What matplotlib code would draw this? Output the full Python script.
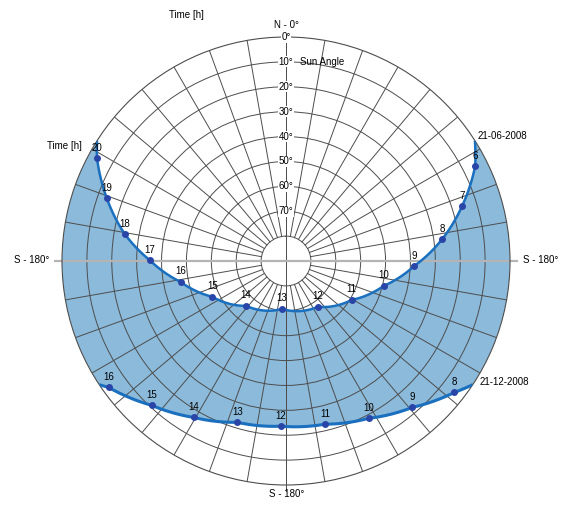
import numpy as np
import matplotlib.pyplot as plt
from matplotlib.path import Path
from matplotlib.patches import PathPatch

plt.rcParams['font.family'] = ['Liberation Sans', 'DejaVu Sans']

# ---- data (azimuth from north, clockwise; altitude in deg) ----
summer_label = '21-06-2008'
summer_hours = [6, 7, 8, 9, 10, 11, 12, 13, 14, 15, 16, 17, 18, 19, 20]
summer_az = [63.4, 72.7, 82.0, 92.2, 104.3, 120.6, 145.2, 184.8, 221.6, 244.1, 258.8, 270.4, 279.5, 289.3, 298.5]
summer_alt = [5.0, 15.9, 26.6, 38.4, 49.5, 59.3, 67.6, 70.7, 65.9, 57.1, 46.8, 35.2, 24.3, 13.7, 3.6]
summer_rise_set_az = [57.5, 302.5]

winter_label = '21-12-2008'
winter_hours = [8, 9, 10, 11, 12, 13, 14, 15, 16]
winter_az = [128.0, 139.2, 152.3, 166.6, 181.7, 196.8, 210.6, 222.9, 234.5]
winter_alt = [4.2, 12.3, 18.6, 22.6, 23.6, 22.3, 17.0, 10.8, 2.5]
winter_rise_set_az = [123.5, 236.5]

ring_alts = [0, 10, 20, 30, 40, 50, 60, 70]
inner_ring_alt = 80
spoke_step = 10

FILL = '#8bbadb'
LINE = '#1a6fbe'
MARK = '#2a45a8'
GRID = '#4d4d4d'

W, H = 566, 505


def path_of(az, alt):
    # azimuth/altitude -> polar (theta, zenith distance)
    return np.column_stack([np.radians(az), 90 - np.asarray(alt, float)])


fig = plt.figure(figsize=(W / 100, H / 100), dpi=100)
ax = fig.add_axes([62 / W, 20 / H, 448 / W, 448 / H], projection='polar')
ax.set_theta_zero_location('N')
ax.set_theta_direction(-1)
ax.set_ylim(0, 90)
ax.set_xticks([])
ax.set_yticks([90 - a for a in ring_alts[1:] + [inner_ring_alt]])
ax.set_yticklabels([])
ax.grid(True, color=GRID, lw=0.7)
ax.spines['polar'].set_color(GRID)
ax.spines['polar'].set_linewidth(0.8)

# radial spokes between the 80 deg ring and the horizon
for a in range(0, 360, spoke_step):
    if a in (90, 270):
        continue
    ax.plot([np.radians(a)] * 2, [90 - inner_ring_alt, 90], color=GRID, lw=0.7, zorder=1.6)
ax.plot([0, np.pi], [90, 92.5], color=GRID, lw=0.7, zorder=1.6, clip_on=False)
ax.plot([np.pi / 2, 3 * np.pi / 2], [92.8, 92.8], color='#b4b4b4', lw=1.6,
        zorder=1.7, clip_on=False)

# curves including sunrise / sunset on the horizon
s_line = path_of([summer_rise_set_az[0]] + summer_az + [summer_rise_set_az[1]],
                 [0] + summer_alt + [0])
w_line = path_of([winter_rise_set_az[0]] + winter_az + [winter_rise_set_az[1]],
                 [0] + winter_alt + [0])

# shaded band between the two paths
band = np.vstack([s_line, w_line[::-1], s_line[:1]])
band_path = Path(band).interpolated(30)
ax.add_patch(PathPatch(band_path, transform=ax.transData, fc=FILL, ec='none', zorder=0.8))

for line, lw in [(s_line, 1.8), (w_line, 2.2)]:
    v = Path(line).interpolated(20).vertices
    ax.plot(v[:, 0], v[:, 1], color=LINE, lw=lw, zorder=3, solid_capstyle='butt')

for hours, az, alt in [(summer_hours, summer_az, summer_alt),
                       (winter_hours, winter_az, winter_alt)]:
    pts = path_of(az, alt)
    ax.plot(pts[:, 0], pts[:, 1], 'o', color=MARK, ms=4, zorder=4)
    for h, (t, r) in zip(hours, pts):
        ax.annotate(str(h), (t, r), xytext=(0, 7.5), textcoords='offset points',
                    ha='center', va='center', fontsize=7, zorder=5)

# sun angle ring labels
for a in ring_alts:
    ax.text(0, 90 - a, f'{a}°', ha='center', va='center', fontsize=7, zorder=5,
            bbox=dict(fc='white', ec='none', pad=0.4))


def ftext(x, y, s, **kw):
    fig.text(x / W, 1 - y / H, s, fontsize=7, va='center', **kw)


ftext(300, 62, 'Sun Angle', ha='left')
ftext(287, 25, 'N - 0°', ha='center')
ftext(186, 15, 'Time [h]', ha='center')
ftext(64, 146, 'Time [h]', ha='center')
ftext(478, 136, summer_label, ha='left')
ftext(480, 382, winter_label, ha='left')
ftext(32, 260, 'S - 180°', ha='center')
ftext(541, 260, 'S - 180°', ha='center')
ftext(287, 494, 'S - 180°', ha='center')

fig.savefig('out.png', dpi=100)
